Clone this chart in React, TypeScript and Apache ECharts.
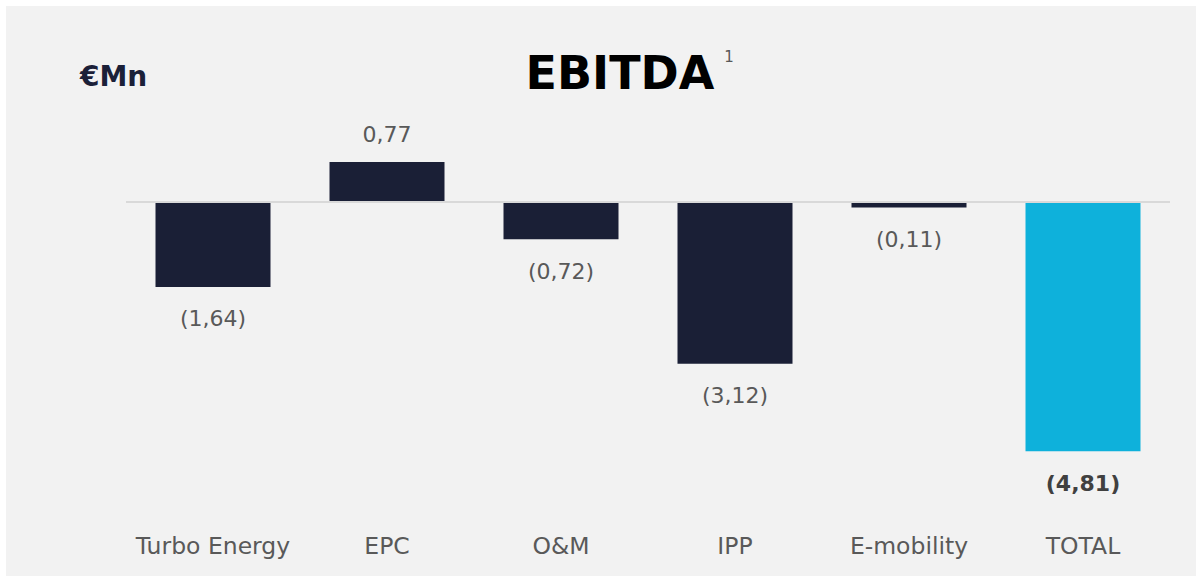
import React, { useEffect, useRef } from "react";
import * as echarts from "echarts";

const categories = ["Turbo Energy", "EPC", "O&M", "IPP", "E-mobility", "TOTAL"];
const values = [-1.64, 0.77, -0.72, -3.12, -0.11, -4.81];
const totalIndex = 5;

const NAVY = "#1a1f36";
const CYAN = "#0eb1db";
const GREY_TEXT = "#595959";
const FONT = "DejaVu Sans";

function fmt(v: number): string {
  const s = Math.abs(v).toFixed(2).replace(".", ",");
  return v < 0 ? `(${s})` : s;
}

export default function App() {
  const ref = useRef<HTMLDivElement>(null);
  useEffect(() => {
    if (!ref.current) return;
    const chart = echarts.init(ref.current, null, { renderer: "svg" });
    const data = values.map((v, i) => {
      const isTotal = i === totalIndex;
      return {
        value: v,
        itemStyle: { color: isTotal ? CYAN : NAVY },
        label: {
          show: true,
          position: v < 0 ? "bottom" : "top",
          distance: v < 0 ? 21 : 16,
          formatter: () => fmt(v),
          fontFamily: FONT,
          fontSize: 22,
          fontWeight: isTotal ? "bold" : "normal",
          color: isTotal ? "#404040" : GREY_TEXT,
        },
      };
    });
    chart.setOption({
      animation: false,
      backgroundColor: "#f2f2f2",
      grid: { left: 120, right: 26, top: 144, bottom: 63 },
      xAxis: {
        type: "category",
        data: categories,
        axisLine: { show: false, onZero: false },
        axisTick: { show: false },
        axisLabel: {
          interval: 0,
          margin: 21,
          fontFamily: FONT,
          fontSize: 23.5,
          color: GREY_TEXT,
        },
      },
      yAxis: {
        type: "value",
        min: -6,
        max: 1,
        show: false,
        splitLine: { show: false },
      },
      graphic: [
        {
          type: "text",
          style: {
            text: "EBITDA",
            x: 614,
            y: 67,
            align: "center",
            verticalAlign: "middle",
            fontFamily: FONT,
            fontWeight: "bold",
            fontSize: 46,
            fill: "#000000",
          },
        },
        {
          type: "text",
          style: {
            text: "1",
            x: 723,
            y: 51,
            align: "center",
            verticalAlign: "middle",
            fontFamily: FONT,
            fontSize: 15,
            fill: GREY_TEXT,
          },
        },
        {
          type: "text",
          style: {
            text: "€Mn",
            x: 74,
            y: 70,
            align: "left",
            verticalAlign: "middle",
            fontFamily: FONT,
            fontWeight: "bold",
            fontSize: 28,
            fill: "#1b2038",
          },
        },
      ],
      series: [
        {
          type: "bar",
          data,
          barWidth: 115,
          markLine: {
            silent: true,
            symbol: ["none", "none"],
            label: { show: false },
            lineStyle: { color: "#d9d9d9", width: 2, type: "solid" },
            data: [{ yAxis: 0 }],
          },
        },
      ],
    });
    return () => chart.dispose();
  }, []);
  return (
    <div style={{ position: "absolute", left: 0, top: 0, width: 1196, height: 576, background: "#ffffff" }}>
      <div ref={ref} style={{ position: "absolute", left: 6, top: 6, width: 1190, height: 570 }} />
    </div>
  );
}
